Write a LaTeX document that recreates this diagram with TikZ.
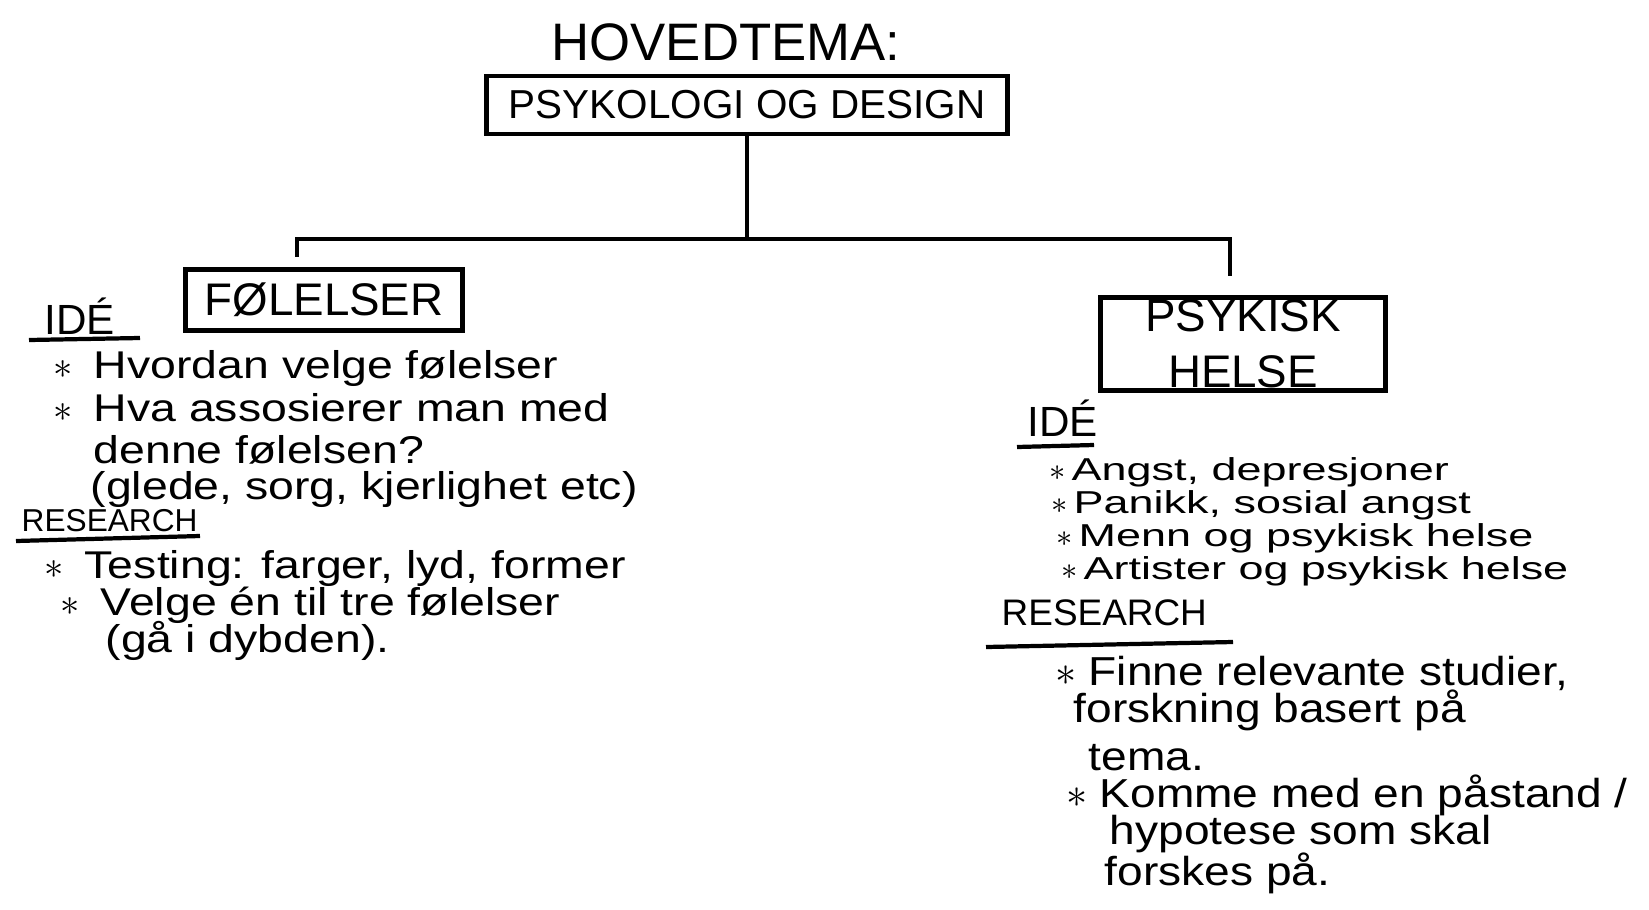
\documentclass[tikz,border=0pt]{standalone}
\usepackage{fontspec}
\setmainfont{Liberation Sans}
\newfontfamily\handL[FakeStretch=1.2]{Liberation Sans}
\newfontfamily\handI[FakeStretch=1.42]{Liberation Sans}
\newfontfamily\handR[FakeStretch=1.14]{Liberation Sans}
\newcommand{\fs}[1]{\fontsize{#1}{#1}\selectfont}
\newcommand{\bul}[1][0.4cm]{\makebox[#1][l]{$\ast$}}
\tikzset{
  topic/.style={draw, line width=1.3pt, inner sep=0pt, align=center},
  note/.style={anchor=west, inner sep=0pt},
  leftnote/.style={note, font=\handL\fs{11}},
  ideanote/.style={note, font=\handI\fs{9}},
  resnote/.style={note, font=\handR\fs{11.5}},
  link/.style={line width=1.2pt},
  rule/.style={line width=1.2pt},
}
\begin{document}
\begin{tikzpicture}[x=0.01cm,y=-0.01cm]
      \useasboundingbox (0,0) rectangle (1649,909);
      % main topic
      \node[font=\fs{15}] (head) at (726,42) {HOVEDTEMA:};
      \node[topic, minimum width=5.21cm, minimum height=0.58cm, font=\fs{11.5}] (top) at (747,105) {PSYKOLOGI OG DESIGN};
      \node[topic, minimum width=2.77cm, minimum height=0.61cm, font=\fs{13}] (fol) at (324,300) {FØLELSER};
      \node[topic, minimum width=2.85cm, minimum height=0.93cm, font=\fs{13}] (psy) at (1243,344) {PSYKISK\\[3pt]HELSE};
      % connectors
      \coordinate (hub) at ([yshift=-1.03cm]top.south);
      \draw[link] (top.south) -- (hub);
      \draw[link, shorten >=0.1cm] (hub) -| ([xshift=-0.27cm]fol.north);
      \draw[link, shorten >=0.19cm] (hub) -| ([xshift=-0.13cm]psy.north);
      % left notes
      \node[note, font=\fs{12}] (ideL) at (44,316) {IDÉ};
      \draw[rule] (29,340) -- (140,338);
      \node[leftnote] (fa1) at (53,368) {\bul Hvordan velge følelser};
      \node[leftnote] (fa2) at (53,408) {\bul Hva assosierer man med};
      \node[leftnote] (fa3) at (93,450) {denne følelsen?};
      \node[leftnote] (fa4) at (90,489) {(glede, sorg, kjerlighet etc)};
      \node[note, font=\fs{9}] (resL) at (21,521) {RESEARCH};
      \draw[rule] (16,541) -- (200,536);
      \node[leftnote] (fb1) at (44,568) {\bul Testing: farger, lyd, former};
      \node[leftnote] (fb2) at (60,605) {\bul Velge én til tre følelser};
      \node[leftnote] (fb3) at (105,641) {(gå i dybden).};
      % right notes
      \node[note, font=\fs{12}] (ideR) at (1027,418) {IDÉ};
      \draw[rule] (1017,447) -- (1094,445);
      \node[ideanote] (ga1) at (1049,472) {\bul[0.22cm]Angst, depresjoner};
      \node[ideanote] (ga2) at (1051,505) {\bul[0.22cm]Panikk, sosial angst};
      \node[ideanote] (ga3) at (1056,538) {\bul[0.22cm]Menn og psykisk helse};
      \node[ideanote] (ga4) at (1061,571) {\bul[0.22cm]Artister og psykisk helse};
      \node[note, font=\fs{10.5}] (resR) at (1001,613) {RESEARCH};
      \draw[rule] (986,647) -- (1233,642);
      \node[resnote] (gb1) at (1055,673) {\bul[0.33cm]Finne relevante studier,};
      \node[resnote] (gb2) at (1073,710) {forskning basert på};
      \node[resnote] (gb3) at (1088,758) {tema.};
      \node[resnote] (gb4) at (1066,795) {\bul[0.33cm]Komme med en påstand /};
      \node[resnote] (gb5) at (1109,834) {hypotese som skal};
      \node[resnote] (gb6) at (1104,873) {forskes på.};
\end{tikzpicture}
\end{document}
